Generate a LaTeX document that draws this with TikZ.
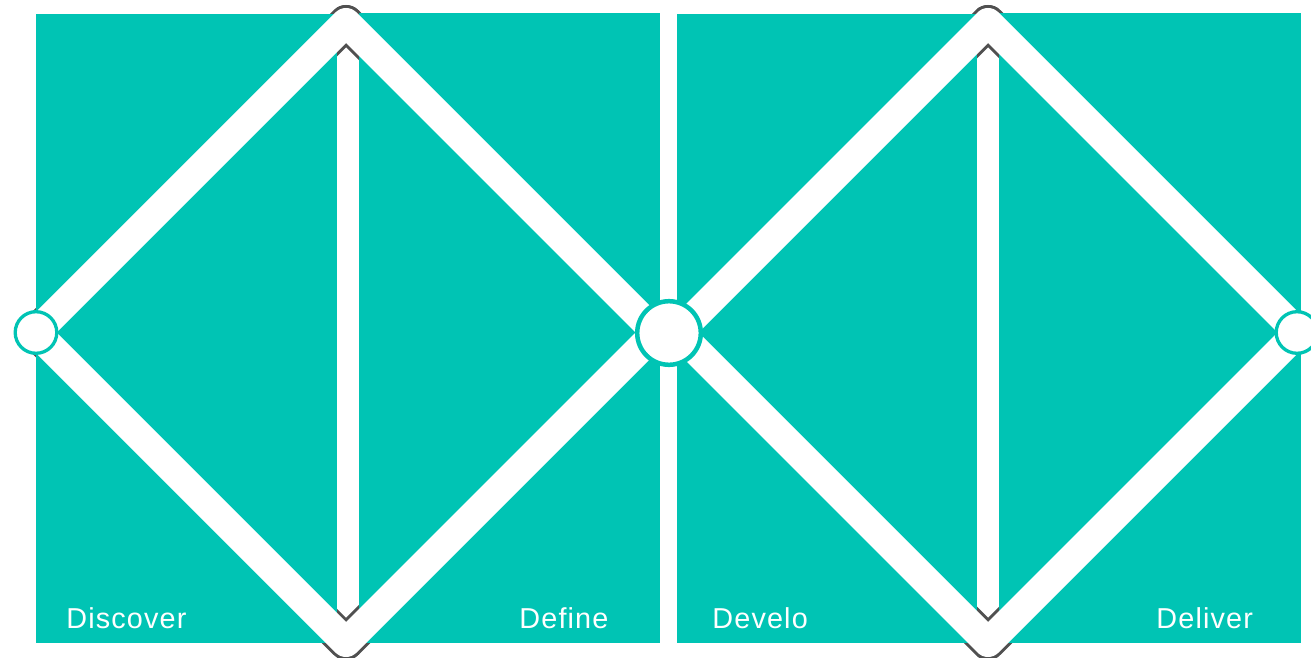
\documentclass[tikz,border=0pt]{standalone}
\usepackage{fontspec}
\newfontfamily\phasefont{Liberation Sans}[LetterSpace=4]
\definecolor{panelteal}{RGB}{0,196,180}
\definecolor{edgegray}{RGB}{80,80,80}

\begin{document}
\begin{tikzpicture}[
  x=0.5pt, y=-0.5pt,
  line join=round,
  every node/.style={inner sep=0pt},
  phase/.style={font=\phasefont\fontsize{14.4}{16}\selectfont, text=white, anchor=base west},
  ring/.style={circle, draw=panelteal, fill=white}
]

\useasboundingbox (0,0) rectangle (1311,658);
\clip (0,0) rectangle (1311,658);

% diamond corners
\coordinate (lw) at (36,332.5);  \coordinate (lt) at (346,22.5);
\coordinate (le) at (656,332.5); \coordinate (lb) at (346,642.5);
\coordinate (rw) at (678,332.5); \coordinate (rt) at (988,22.5);
\coordinate (re) at (1298,332.5); \coordinate (rb) at (988,642.5);

% gray rim, only the tips stay visible
\draw[edgegray, line width=17.5pt] (lw) -- (lt) -- (le) -- (lb) -- cycle;
\draw[edgegray, line width=17.5pt] (rw) -- (rt) -- (re) -- (rb) -- cycle;

% teal panels
\fill[panelteal] (36,14) rectangle (346,643);
\fill[panelteal] (346,13) rectangle (660,643);
\fill[panelteal] (677,14) rectangle (988,643);
\fill[panelteal] (988,13) rectangle (1301,643);

% vertical bars
\fill[white] (337,40) rectangle (359,626);
\fill[white] (977,40) rectangle (999,626);

% rim seen inside the bars
\begin{scope}
  \clip (337,0) rectangle (359,658) (977,0) rectangle (999,658);
  \draw[edgegray, line width=17.5pt] (lw) -- (lt) -- (le) -- (lb) -- cycle;
  \draw[edgegray, line width=17.5pt] (rw) -- (rt) -- (re) -- (rb) -- cycle;
\end{scope}

% white diamonds
\draw[white, line width=14.5pt] (lw) -- (lt) -- (le) -- (lb) -- cycle;
\draw[white, line width=14.5pt] (rw) -- (rt) -- (re) -- (rb) -- cycle;

% circles at the joints
\node[ring, line width=1.65pt, minimum size=20.8pt] (start) at (36,332.5) {};
\node[ring, line width=2.25pt, minimum size=31.8pt] (middle) at (669,333) {};
\node[ring, line width=1.65pt, minimum size=20.8pt] (finish) at (1297,332.5) {};

% phase labels
\node[phase] (discover) at (66,628) {Discover};
\node[phase] (define) at (519,628) {Define};
\node[phase] (develop) at (712,628) {Develo};
\node[phase] (deliver) at (1156,628) {Deliver};

\end{tikzpicture}
\end{document}
